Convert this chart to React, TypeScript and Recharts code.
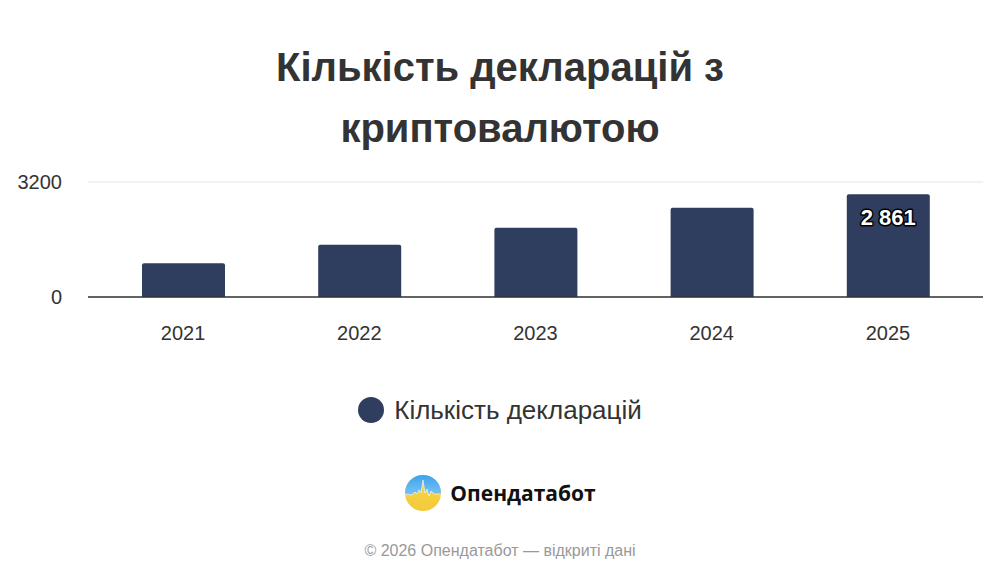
import React from 'react';
import { BarChart, Bar, XAxis, YAxis, CartesianGrid, LabelList } from 'recharts';

const years = ['2021', '2022', '2023', '2024', '2025'];
const declarations = [940, 1455, 1925, 2485, 2861];
const yTicks = [0, 3200];
const seriesName = 'Кількість декларацій';
const titleLines = ['Кількість декларацій з', 'криптовалютою'];

const data = years.map((year, i) => ({ year, value: declarations[i] }));

const BAR_COLOR = '#2f3e5e';
const FONT = '"Liberation Sans", Arial, sans-serif';

const LastLabel = (props: any) => {
  const { x, y, width, value, index } = props;
  if (index !== data.length - 1) return null;
  const text = String(value).replace(/\B(?=(\d{3})+(?!\d))/g, ' ');
  return (
    <text
      x={x + width / 2}
      y={y + 23}
      textAnchor="middle"
      dominantBaseline="central"
      fill="#fff"
      stroke="#000"
      strokeWidth={3}
      paintOrder="stroke"
      strokeLinejoin="round"
      fontSize={22}
      fontWeight="bold"
      fontFamily={FONT}
    >
      {text}
    </text>
  );
};

const Logo = () => (
  <svg width={38} height={38} viewBox="0 0 38 38">
    <defs>
      <linearGradient id="sky" x1="0" y1="0" x2="0" y2="1">
        <stop offset="0" stopColor="#3aa0f0" />
        <stop offset="1" stopColor="#7cc6f4" />
      </linearGradient>
      <linearGradient id="sun" x1="0" y1="0" x2="0" y2="1">
        <stop offset="0" stopColor="#f6d84a" />
        <stop offset="1" stopColor="#f3c93a" />
      </linearGradient>
      <clipPath id="round">
        <circle cx={19} cy={19} r={18} />
      </clipPath>
    </defs>
    <g clipPath="url(#round)">
      <rect x={0} y={0} width={38} height={38} fill="url(#sun)" />
      <path
        d="M0 0 H38 V20 L30 20 L27 17 L25 22 L23 15 L21 19 L19 6 L17 19 L15 16 L13 20 L11 18 L8 21 L0 20 Z"
        fill="url(#sky)"
      />
      <path
        d="M0 20 L8 21 L11 18 L13 20 L15 16 L17 19 L19 6 L21 19 L23 15 L25 22 L27 17 L30 20 L38 20"
        fill="none"
        stroke="#ffffff"
        strokeOpacity={0.6}
        strokeWidth={1}
      />
    </g>
  </svg>
);

export default function App() {
  return (
    <div
      style={{
        position: 'absolute',
        left: 0,
        top: 0,
        width: 1000,
        height: 583,
        background: '#fff',
        fontFamily: FONT,
        overflow: 'hidden',
      }}
    >
      {titleLines.map((line, i) => (
        <div
          key={line}
          style={{
            position: 'absolute',
            left: 0,
            width: 1000,
            top: i === 0 ? 47 : 108,
            textAlign: 'center',
            fontSize: 40,
            fontWeight: 'bold',
            color: '#333',
            lineHeight: '40px',
          }}
        >
          {line}
        </div>
      ))}

      <div style={{ position: 'absolute', left: 0, top: 0 }}>
        <BarChart
          width={1000}
          height={370}
          data={data}
          margin={{ top: 182, right: 17, bottom: 30, left: 0 }}
        >
          <CartesianGrid vertical={false} stroke="#e6e6e6" />
          <XAxis
            dataKey="year"
            height={43}
            padding={{ left: 7, right: 7 }}
            tickLine={false}
            tickSize={0}
            tickMargin={29}
            axisLine={{ stroke: '#333', strokeWidth: 1.5 }}
            tick={{ fontSize: 20, fill: '#333', fontFamily: FONT }}
          />
          <YAxis
            width={88}
            domain={[0, 3200]}
            ticks={yTicks}
            interval={0}
            tickLine={false}
            tickSize={0}
            tickMargin={26}
            axisLine={false}
            tick={{ fontSize: 20, fill: '#333', fontFamily: FONT }}
          />
          <Bar
            dataKey="value"
            name={seriesName}
            fill={BAR_COLOR}
            barSize={83}
            radius={[2, 2, 0, 0]}
            isAnimationActive={false}
          >
            <LabelList dataKey="value" content={<LastLabel />} />
          </Bar>
        </BarChart>
      </div>

      <div
        style={{
          position: 'absolute',
          top: 395,
          left: 0,
          width: 1000,
          display: 'flex',
          justifyContent: 'center',
          alignItems: 'center',
          gap: 10,
        }}
      >
        <svg width={26} height={26}>
          <circle cx={13} cy={13} r={13} fill={BAR_COLOR} />
        </svg>
        <span style={{ fontSize: 26, color: '#333', lineHeight: '30px' }}>{seriesName}</span>
      </div>

      <div
        style={{
          position: 'absolute',
          top: 474,
          left: 0,
          width: 1000,
          display: 'flex',
          justifyContent: 'center',
          alignItems: 'center',
          gap: 8,
        }}
      >
        <Logo />
        <span
          style={{
            fontFamily: '"Open Sans", "Noto Sans", sans-serif',
            fontWeight: 700,
            fontSize: 21,
            color: '#111',
          }}
        >
          Опендатабот
        </span>
      </div>

      <div
        style={{
          position: 'absolute',
          top: 542,
          left: 0,
          width: 1000,
          textAlign: 'center',
          fontSize: 16,
          color: '#999',
        }}
      >
        © 2026 Опендатабот — відкриті дані
      </div>
    </div>
  );
}
